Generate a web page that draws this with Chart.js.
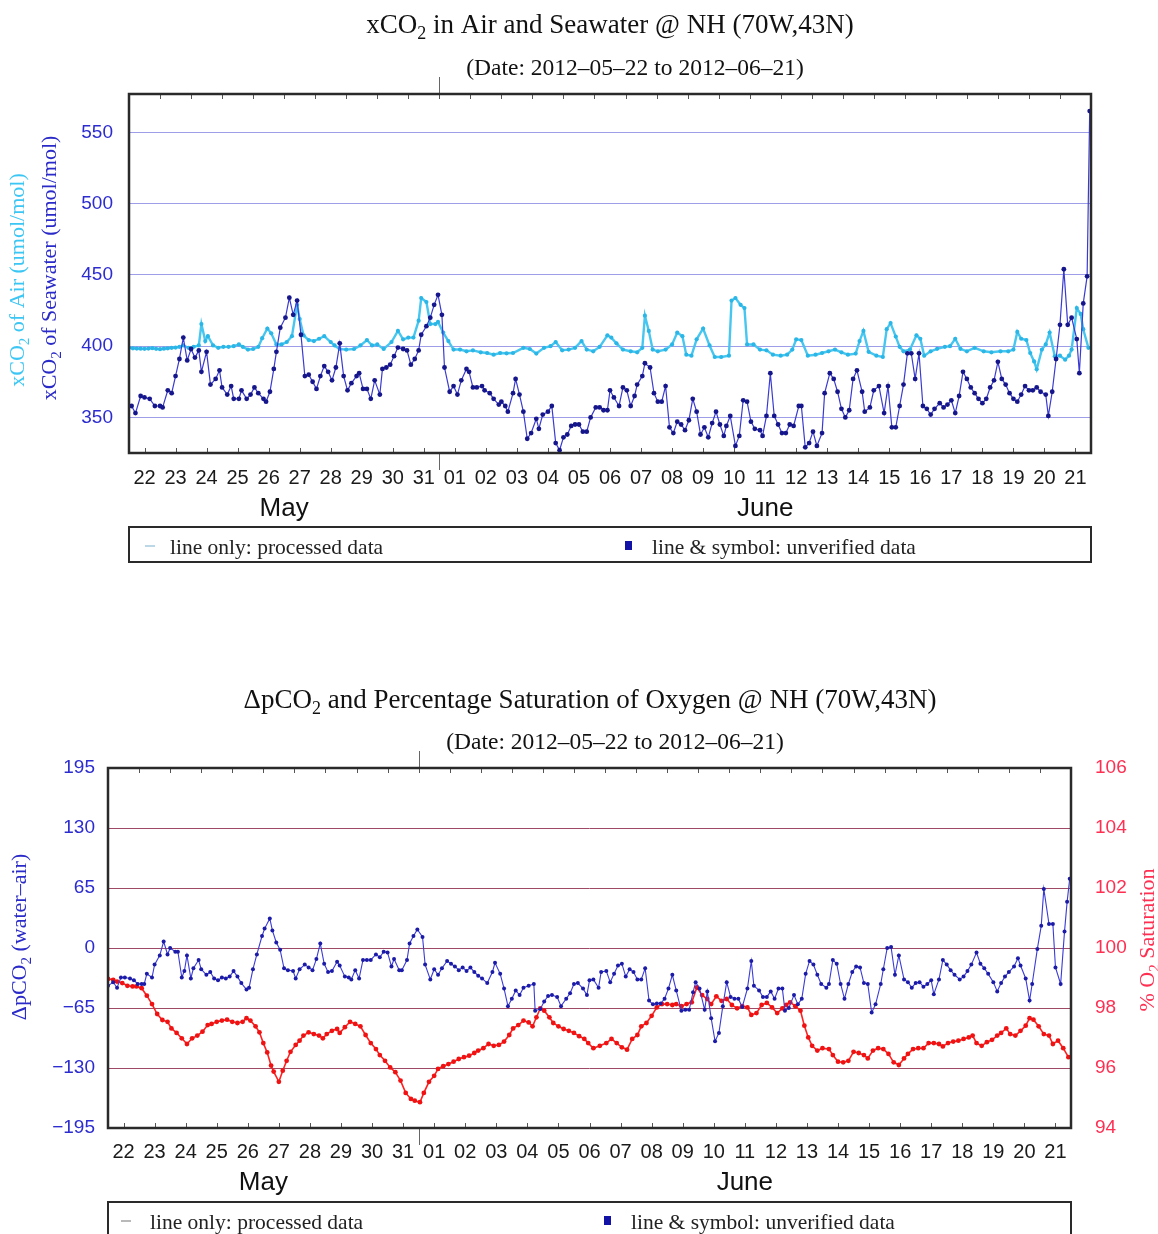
<!DOCTYPE html>
<html>
<head>
<meta charset="utf-8">
<script src="https://cdn.jsdelivr.net/npm/chart.js@4/dist/chart.umd.min.js"></script>
<style>
  html, body { margin: 0; padding: 0; background: #fff; }
  #wrap { position: relative; width: 1158px; height: 1234px; overflow: hidden; }
  canvas { position: absolute; left: 0; }
  #top { top: 0; }
  #bottom { top: 600px; }
</style>
</head>
<body>
<div id="wrap">
  <canvas id="top" width="1158" height="600"></canvas>
  <canvas id="bottom" width="1158" height="634"></canvas>
</div>
<script>
// ---- time axis: hours since 2012-05-22 00:00 ----
const dayLabels = ['22','23','24','25','26','27','28','29','30','31',
  '01','02','03','04','05','06','07','08','09','10','11','12','13','14','15','16','17','18','19','20','21'];
const monthLabels = ['May', 'June'];
const monthStartHours = [0, 240, 744];

// ---- axis tick values ----
const xco2Ticks = [350, 400, 450, 500, 550];
const dpco2Ticks = [-195, -130, -65, 0, 65, 130, 195];
const o2Ticks = [94, 96, 98, 100, 102, 104, 106];

// ---- xCO2 of seawater (umol/mol), [hour, value] ----
const seawaterXco2 = [
  [2,358],[5,353],[9,365],[12,364],[16,363],[20,358],[24,358],[26,357],[30,369],[33,367],[36,379],[39,391],
  [42,406],[45,390],[48,398],[51,392],[54,397],[56,382],[60,396],[63,373],[67,377],[70,383],[72,371],[76,366],
  [79,372],[81,363],[85,363],[87,369],[91,363],[94,366],[97,371],[100,367],[104,363],[106,361],[109,368],[112,384],
  [114,396],[117,413],[121,420],[124,434],[127,422],[130,432],[133,408],[136,379],[139,380],[142,375],[145,370],
  [148,379],[151,386],[154,382],[157,376],[160,385],[163,402],[166,379],[169,369],[172,374],[176,379],[178,381],
  [181,370],[184,370],[187,363],[190,376],[194,366],[196,384],[199,385],[202,387],[205,393],[208,399],[212,398],
  [215,397],[218,387],[221,391],[224,397],[226,408],[230,414],[233,420],[236,429],[239,436],[242,422],[244,385],
  [248,368],[251,372],[254,366],[257,376],[261,384],[263,382],[266,371],[269,371],[273,372],[275,369],[279,367],
  [282,363],[286,359],[288,361],[291,358],[293,354],[297,367],[299,377],[302,366],[305,354],[308,335],[311,339],
  [315,349],[317,342],[320,352],[324,354],[327,358],[330,332],[333,327],[336,336],[339,338],[342,344],[345,345],
  [348,345],[351,340],[354,340],[357,350],[361,357],[364,357],[367,355],[370,355],[372,369],[375,364],[379,358],
  [382,371],[385,369],[388,358],[391,365],[393,373],[397,379],[399,388],[403,385],[406,367],[409,361],[412,361],
  [415,372],[418,343],[421,339],[424,347],[427,345],[430,341],[433,348],[436,363],[439,354],[442,338],[445,343],
  [448,336],[451,346],[454,354],[457,345],[460,337],[462,344],[465,351],[469,330],[472,337],[475,362],[478,361],
  [481,347],[484,342],[488,341],[490,337],[493,351],[496,381],[499,351],[502,345],[505,339],[508,339],[511,345],
  [514,344],[518,358],[520,358],[523,329],[526,332],[529,340],[532,330],[536,339],[538,367],[542,381],[545,377],
  [548,368],[551,356],[554,350],[557,355],[560,377],[563,383],[567,368],[569,354],[573,357],[576,369],[580,372],
  [584,353],[587,372],[590,343],[593,343],[596,358],[599,373],[602,395],[605,395],[608,377],[611,395],[614,358],
  [617,356],[620,352],[623,356],[627,360],[630,357],[633,359],[636,362],[639,353],[642,365],[645,382],[648,377],
  [651,371],[654,367],[657,363],[660,360],[663,363],[666,371],[669,376],[672,389],[675,377],[678,373],[681,367],
  [684,363],[687,361],[690,366],[693,372],[696,369],[699,369],[702,371],[705,368],[709,366],[711,351],[714,368],
  [717,391],[720,415],[723,454],[726,415],[729,420],[733,405],[735,381],[738,430],[741,449],[743,565]
];

// ---- xCO2 of air (umol/mol), [hour, value] ----
const airXco2 = [
  [0,398.8],[3,398.5],[6,398.3],[9,398.2],[12,398.1],[15,398.3],[18,398.6],[21,398.1],[24,397.9],[27,398.2],
  [30,398.5],[33,398.8],[36,399.0],[39,399.5],[42,400.5],[46,398.8],[50,399.5],[54,400.5],[56,415.5],[59,403.6],
  [61,407.0],[65,400.5],[69,398.8],[73,399.5],[77,399.5],[81,400.0],[85,401.2],[88,399.5],[92,397.6],[96,398.0],
  [100,399.5],[103,405.6],[107,412.4],[110,409.0],[114,401.2],[118,401.2],[122,402.9],[126,407.0],[130,429.0],
  [132,419.0],[135,407.6],[139,404.3],[143,403.6],[147,405.2],[151,407.0],[156,402.9],[159,400.5],[163,398.0],
  [168,397.6],[174,398.0],[179,400.5],[184,404.3],[188,400.5],[192,401.2],[197,398.0],[203,402.9],[208,410.7],
  [212,404.8],[216,406.0],[220,406.0],[224,417.9],[226,433.8],[230,431.0],[233,415.5],[237,415.5],[239,417.0],
  [243,409.5],[247,403.6],[251,397.6],[256,397.6],[261,396.4],[266,397.0],[272,395.7],[277,395.2],[282,394.0],
  [287,395.2],[292,395.0],[297,395.2],[305,398.8],[310,398.0],[315,394.8],[321,398.8],[326,400.0],[330,402.9],
  [335,397.1],[340,397.6],[345,398.8],[350,403.6],[354,397.6],[359,396.4],[364,399.5],[370,407.6],[373,406.0],
  [377,402.0],[382,397.6],[388,396.4],[393,395.7],[397,398.8],[399,421.4],[402,410.7],[405,397.6],[409,396.4],
  [415,397.6],[420,401.2],[424,409.5],[428,407.0],[431,394.0],[435,393.3],[439,404.8],[444,412.4],[449,400.5],
  [453,392.4],[458,392.4],[464,393.3],[466,432.0],[469,433.8],[473,429.0],[476,426.7],[478,401.2],[483,401.2],
  [488,397.6],[493,397.1],[498,394.0],[504,393.3],[509,394.0],[513,397.6],[516,404.8],[520,404.3],[525,393.3],
  [531,394.0],[536,395.2],[541,396.4],[546,397.6],[551,395.7],[556,394.0],[562,394.8],[565,403.6],[568,410.7],
  [572,396.0],[578,393.3],[583,392.4],[586,411.9],[589,416.2],[593,406.7],[596,399.5],[599,396.4],[604,397.6],
  [609,407.6],[612,405.2],[615,393.3],[620,396.4],[625,398.1],[631,399.5],[635,400.0],[639,405.2],[643,398.1],
  [648,396.4],[654,398.8],[661,396.4],[667,395.7],[674,396.4],[680,396.4],[684,397.6],[687,410.0],[690,405.2],
  [694,404.3],[697,395.2],[700,389.3],[702,383.8],[706,397.6],[709,401.2],[712,409.5],[716,392.9],[720,393.3],
  [724,390.5],[727,393.3],[729,397.6],[733,426.7],[736,422.6],[738,411.9],[742,398.8]
];

// ---- delta pCO2 (water - air), [hour, value] ----
const deltaPco2 = [
  [0,-41],[4,-37],[7,-43],[10,-32],[13,-32],[17,-33],[20,-35],[23,-39],[26,-39],[28,-39],[30,-28],[34,-32],
  [36,-18],[40,-8],[43,7],[46,-7],[48,0],[52,-4],[54,-4],[57,-32],[59,-25],[61,-8],[64,-33],[66,-22],[70,-13],
  [72,-23],[76,-29],[79,-26],[82,-33],[85,-35],[88,-32],[91,-33],[94,-31],[97,-25],[100,-31],[103,-38],[107,-45],
  [109,-43],[112,-23],[115,-7],[119,13],[121,21],[125,32],[127,19],[130,6],[133,-2],[136,-22],[139,-24],[143,-25],
  [145,-33],[148,-23],[152,-18],[155,-21],[158,-24],[161,-12],[164,5],[167,-17],[170,-26],[173,-25],[177,-15],
  [179,-19],[183,-31],[186,-32],[188,-34],[191,-24],[194,-33],[197,-13],[200,-13],[203,-13],[207,-7],[210,-10],
  [213,-4],[216,-5],[219,-20],[221,-12],[225,-24],[227,-24],[231,-13],[233,5],[236,13],[239,20],[243,12],[245,-18],
  [249,-34],[252,-23],[255,-29],[258,-22],[262,-14],[265,-17],[268,-20],[271,-24],[274,-21],[277,-25],[280,-21],
  [283,-26],[286,-30],[289,-33],[293,-38],[297,-26],[299,-16],[303,-28],[306,-44],[309,-63],[312,-55],[315,-46],
  [318,-51],[321,-43],[325,-41],[329,-39],[330,-68],[334,-66],[337,-58],[340,-52],[343,-51],[347,-53],[350,-63],
  [354,-55],[357,-49],[360,-39],[363,-38],[367,-44],[370,-51],[372,-35],[375,-34],[379,-43],[381,-26],[385,-25],
  [388,-37],[391,-28],[394,-19],[397,-17],[400,-31],[403,-23],[406,-26],[409,-34],[412,-34],[415,-22],[418,-57],
  [421,-61],[424,-60],[427,-60],[430,-55],[433,-44],[436,-29],[439,-46],[443,-68],[446,-67],[449,-67],[452,-48],
  [454,-37],[457,-44],[461,-67],[463,-47],[466,-76],[469,-101],[472,-92],[475,-63],[478,-37],[481,-53],[484,-55],
  [487,-55],[490,-64],[494,-44],[497,-14],[499,-41],[503,-46],[506,-53],[509,-53],[512,-47],[515,-55],[518,-44],
  [521,-44],[523,-68],[526,-65],[530,-51],[533,-61],[536,-55],[539,-28],[542,-14],[545,-18],[548,-29],[551,-39],
  [555,-43],[557,-39],[560,-13],[563,-17],[566,-39],[569,-55],[572,-39],[575,-26],[578,-20],[581,-21],[584,-38],
  [587,-39],[590,-70],[593,-61],[597,-39],[599,-23],[602,0],[605,1],[608,-29],[611,-8],[615,-34],[618,-37],
  [621,-43],[624,-38],[627,-37],[630,-42],[633,-39],[636,-35],[638,-50],[642,-34],[645,-13],[648,-18],[651,-24],
  [654,-29],[658,-34],[661,-31],[664,-25],[667,-18],[671,-5],[674,-17],[677,-22],[680,-28],[684,-37],[687,-47],
  [690,-38],[693,-31],[696,-26],[700,-20],[703,-11],[705,-19],[709,-33],[712,-57],[714,-39],[718,-1],[721,24],
  [723,64],[727,26],[730,26],[732,-21],[736,-39],[739,18],[741,50],[743,75]
];

// ---- % O2 saturation, [hour, value] ----
const o2Saturation = [
  [0,98.97],[4,98.94],[7,98.88],[11,98.83],[15,98.74],[19,98.72],[22,98.72],[26,98.66],[30,98.41],[34,98.13],
  [38,97.80],[42,97.60],[46,97.54],[49,97.32],[53,97.17],[57,96.99],[61,96.80],[65,96.99],[69,97.08],[73,97.21],
  [77,97.43],[80,97.47],[84,97.54],[88,97.58],[92,97.61],[96,97.54],[100,97.50],[104,97.54],[107,97.66],[110,97.58],
  [114,97.39],[117,97.19],[120,96.83],[123,96.52],[126,96.08],[128,95.88],[132,95.54],[135,95.91],[138,96.24],
  [141,96.54],[145,96.77],[148,96.91],[151,97.08],[155,97.19],[159,97.13],[163,97.08],[166,96.99],[169,97.13],
  [173,97.24],[177,97.30],[179,97.17],[183,97.36],[187,97.54],[191,97.47],[195,97.39],[199,97.10],[203,96.83],
  [207,96.63],[210,96.43],[214,96.24],[218,96.02],[222,95.86],[226,95.58],[230,95.17],[234,94.97],[237,94.91],
  [241,94.86],[244,95.17],[248,95.54],[252,95.74],[255,95.97],[259,96.06],[263,96.13],[267,96.21],[271,96.30],
  [275,96.36],[279,96.41],[283,96.50],[286,96.58],[290,96.66],[294,96.80],[298,96.74],[302,96.77],[306,96.88],
  [310,97.10],[313,97.32],[317,97.43],[321,97.58],[325,97.52],[328,97.39],[331,97.69],[334,97.99],[337,97.91],
  [341,97.69],[344,97.50],[348,97.39],[352,97.30],[356,97.24],[360,97.17],[364,97.06],[368,96.97],[371,96.83],
  [375,96.66],[380,96.74],[385,96.83],[389,96.97],[393,96.83],[397,96.69],[401,96.61],[405,96.97],[409,97.10],
  [412,97.39],[416,97.50],[420,97.74],[424,98.02],[428,98.13],[432,98.13],[436,98.10],[439,98.13],[443,98.06],
  [447,98.13],[451,98.19],[455,98.69],[459,98.43],[463,98.30],[466,98.13],[470,98.39],[474,98.24],[478,98.30],
  [482,98.10],[486,97.99],[490,98.06],[494,98.02],[497,97.77],[501,97.83],[505,98.10],[509,98.17],[513,98.02],
  [517,97.83],[521,97.99],[524,98.10],[527,98.19],[531,98.06],[535,97.91],[538,97.41],[541,97.02],[544,96.74],
  [548,96.58],[552,96.66],[557,96.63],[560,96.43],[564,96.21],[568,96.19],[572,96.24],[576,96.54],[580,96.50],
  [584,96.43],[587,96.32],[591,96.58],[595,96.66],[599,96.63],[603,96.47],[607,96.19],[611,96.10],[615,96.32],
  [618,96.47],[622,96.63],[626,96.66],[630,96.66],[634,96.83],[638,96.83],[642,96.80],[645,96.72],[649,96.83],
  [653,96.88],[657,96.91],[661,96.97],[665,97.02],[668,97.08],[671,96.83],[675,96.74],[679,96.86],[683,96.94],
  [687,97.08],[690,97.17],[694,97.32],[697,97.13],[701,97.08],[705,97.24],[709,97.41],[712,97.66],[715,97.61],
  [719,97.39],[723,97.13],[727,97.08],[730,96.80],[734,96.91],[738,96.66],[742,96.36]
];

// ---- styling ----
const SERIF = '"Liberation Serif", "Times New Roman", serif';
const SANS = '"Liberation Sans", Arial, sans-serif';
const BLUE_TEXT = '#2c2cd0';
const RED_TEXT = '#ff2f52';

const toPoints = pairs => pairs.map(([h, v]) => ({ x: h, y: v }));
const noonTicks = () => dayLabels.map((_, i) => ({ value: i * 24 + 12 }));
const fmtMinus = v => (v < 0 ? '\u2212' + Math.abs(v) : String(v));

// text with "_2" style subscripts
function richText(ctx, text, x, y, size, family, color, align) {
  const parts = text.split(/_(\d)/);
  const sub = Math.round(size * 0.68);
  const widths = parts.map((p, i) => {
    ctx.font = `${i % 2 ? sub : size}px ${family}`;
    return ctx.measureText(p).width;
  });
  const total = widths.reduce((a, b) => a + b, 0);
  let cx = align === 'center' ? x - total / 2 : align === 'right' ? x - total : x;
  ctx.fillStyle = color;
  ctx.textAlign = 'left';
  ctx.textBaseline = 'middle';
  parts.forEach((p, i) => {
    ctx.font = `${i % 2 ? sub : size}px ${family}`;
    ctx.fillText(p, cx, i % 2 ? y + size * 0.3 : y);
    cx += widths[i];
  });
}

function rotatedText(ctx, text, x, y, size, family, color) {
  ctx.save();
  ctx.translate(x, y);
  ctx.rotate(-Math.PI / 2);
  richText(ctx, text, 0, 0, size, family, color, 'center');
  ctx.restore();
}

function line(ctx, x1, y1, x2, y2) {
  ctx.beginPath(); ctx.moveTo(x1, y1); ctx.lineTo(x2, y2); ctx.stroke();
}

// frame, tick marks, titles, month names and the legend box
function decorPlugin(d) {
  return {
    id: 'decor',
    afterDatasetsDraw(chart) {
      const { ctx, chartArea: a } = chart;
      const x = chart.scales.x;
      ctx.save();
      ctx.strokeStyle = '#555';
      ctx.lineWidth = 1;
      for (let day = 1; day < dayLabels.length; day++) {
        const px = Math.round(x.getPixelForValue(day * 24)) + 0.5;
        line(ctx, px, a.top, px, a.top + 5);
      }
      noonTicks().forEach(t => {
        const px = Math.round(x.getPixelForValue(t.value)) + 0.5;
        line(ctx, px, a.bottom - 5, px, a.bottom);
      });
      const mb = Math.round(x.getPixelForValue(monthStartHours[1])) + 0.5;
      ctx.strokeStyle = '#666';
      line(ctx, mb, a.top - 17, mb, a.top);
      line(ctx, mb, a.bottom, mb, a.bottom + 17);
      ctx.strokeStyle = '#2a2a2a';
      ctx.lineWidth = 2.5;
      ctx.strokeRect(a.left, a.top, a.right - a.left, a.bottom - a.top);
      ctx.restore();
    },
    afterDraw(chart) {
      const { ctx, chartArea: a } = chart;
      const x = chart.scales.x;
      ctx.save();
      richText(ctx, d.title, d.titleX, d.titleY, 27, SERIF, '#111', 'center');
      richText(ctx, d.subtitle, d.subX, d.subY, 23.5, SERIF, '#111', 'center');
      d.axisTitles.forEach(t => rotatedText(ctx, t.text, t.x, t.y, 22, SERIF, t.color));
      // month names centred under their day ranges
      ctx.font = `26px ${SANS}`;
      ctx.fillStyle = '#111';
      ctx.textAlign = 'center';
      ctx.textBaseline = 'middle';
      monthLabels.forEach((m, i) => {
        const c = (x.getPixelForValue(monthStartHours[i]) + x.getPixelForValue(monthStartHours[i + 1])) / 2;
        ctx.fillText(m, c, d.monthY);
      });
      // legend box
      ctx.strokeStyle = '#2a2a2a';
      ctx.lineWidth = 2;
      ctx.strokeRect(a.left, d.legendTop, a.right - a.left, d.legendHeight);
      const ly = d.legendTop + d.legendTextDy;
      ctx.strokeStyle = d.processedColor;
      ctx.lineWidth = 2;
      line(ctx, a.left + d.mark1 - 6, ly - 2, a.left + d.mark1 + 4, ly - 2);
      richText(ctx, 'line only: processed data', a.left + d.text1, ly, 21.5, SERIF, '#222', 'left');
      ctx.fillStyle = '#1212a6';
      ctx.fillRect(a.left + d.mark2, ly - 7, 7, 9);
      richText(ctx, 'line & symbol: unverified data', a.left + d.text2, ly, 21.5, SERIF, '#222', 'left');
      ctx.restore();
    }
  };
}

function xAxis(axisHeight, pad) {
  return {
    type: 'linear', min: 0, max: 744,
    afterBuildTicks: s => { s.ticks = noonTicks(); },
    afterFit: s => { s.height = axisHeight; },
    ticks: {
      autoSkip: false, maxRotation: 0, minRotation: 0, padding: pad,
      color: '#1a1a1a', font: { family: SANS, size: 20 },
      callback: (v, i) => dayLabels[i]
    },
    grid: { display: false },
    border: { display: false }
  };
}

// ---- upper panel: xCO2 in air and seawater ----
new Chart(document.getElementById('top'), {
  type: 'line',
  data: {
    datasets: [
      {
        label: 'xCO2 of Seawater', data: toPoints(seawaterXco2),
        borderColor: '#3a3ad2', borderWidth: 1.2, backgroundColor: '#15158c',
        pointBackgroundColor: '#15158c', pointBorderWidth: 0, pointRadius: 2.4, tension: 0
      },
      {
        label: 'xCO2 of Air', data: toPoints(airXco2),
        borderColor: '#47c6f0', borderWidth: 2.4, backgroundColor: '#2ab6e6',
        pointBackgroundColor: '#2ab6e6', pointBorderWidth: 0, pointRadius: 2.1, tension: 0
      }
    ]
  },
  options: {
    responsive: false, animation: false, devicePixelRatio: 1,
    layout: { padding: { left: 0, right: 67, top: 94, bottom: 0 } },
    plugins: { legend: { display: false }, tooltip: { enabled: false }, title: { display: false } },
    scales: {
      x: xAxis(147, 5),
      y: {
        min: 325, max: 577,
        afterBuildTicks: s => { s.ticks = xco2Ticks.map(v => ({ value: v })); },
        afterFit: s => { s.width = 129; },
        ticks: { padding: 16, color: BLUE_TEXT, font: { family: SANS, size: 19 } },
        grid: { color: '#9d9de8', lineWidth: 1, drawTicks: false },
        border: { display: false }
      }
    }
  },
  plugins: [decorPlugin({
    title: 'xCO_2 in Air and Seawater @ NH (70W,43N)', titleX: 610, titleY: 26,
    subtitle: '(Date: 2012\u201305\u201322 to 2012\u201306\u201321)', subX: 635, subY: 69,
    axisTitles: [
      { text: 'xCO_2 of Air (umol/mol)', x: 18, y: 280, color: '#3cc6f4' },
      { text: 'xCO_2 of Seawater (umol/mol)', x: 50, y: 268, color: '#2a2ac8' }
    ],
    monthY: 509, legendTop: 527, legendHeight: 35, legendTextDy: 21,
    processedColor: '#bcd8e6', mark1: 22, text1: 41, mark2: 496, text2: 523
  })]
});

// ---- lower panel: delta pCO2 and O2 saturation ----
new Chart(document.getElementById('bottom'), {
  type: 'line',
  data: {
    datasets: [
      {
        label: 'dpCO2', yAxisID: 'y', data: toPoints(deltaPco2),
        borderColor: '#3a3ad8', borderWidth: 1.1, backgroundColor: '#1b1ba8',
        pointBackgroundColor: '#1b1ba8', pointBorderWidth: 0, pointRadius: 2, tension: 0
      },
      {
        label: 'O2 saturation', yAxisID: 'y2', data: toPoints(o2Saturation),
        borderColor: '#ff2020', borderWidth: 1.6, backgroundColor: '#f01212',
        pointBackgroundColor: '#f01212', pointBorderWidth: 0, pointRadius: 2.4, tension: 0
      }
    ]
  },
  options: {
    responsive: false, animation: false, devicePixelRatio: 1,
    layout: { padding: { left: 0, right: 0, top: 168, bottom: 0 } },
    plugins: { legend: { display: false }, tooltip: { enabled: false }, title: { display: false } },
    scales: {
      x: xAxis(106, 4),
      y: {
        position: 'left', min: -195, max: 195,
        afterBuildTicks: s => { s.ticks = dpco2Ticks.map(v => ({ value: v })); },
        afterFit: s => { s.width = 108; },
        ticks: { padding: 13, color: BLUE_TEXT, font: { family: SANS, size: 19 }, callback: v => fmtMinus(v) },
        grid: { color: '#9e4a64', lineWidth: 1, drawTicks: false },
        border: { display: false }
      },
      y2: {
        position: 'right', min: 94, max: 106,
        afterBuildTicks: s => { s.ticks = o2Ticks.map(v => ({ value: v })); },
        afterFit: s => { s.width = 87; },
        ticks: { padding: 16, color: RED_TEXT, font: { family: SANS, size: 19 } },
        grid: { display: false },
        border: { display: false }
      }
    }
  },
  plugins: [decorPlugin({
    title: '\u0394pCO_2 and Percentage Saturation of Oxygen @ NH (70W,43N)', titleX: 590, titleY: 101,
    subtitle: '(Date: 2012\u201305\u201322 to 2012\u201306\u201321)', subX: 615, subY: 143,
    axisTitles: [
      { text: '\u0394pCO_2 (water\u2013air)', x: 20, y: 337, color: '#2a2ac8' },
      { text: '% O_2 Saturation', x: 1148, y: 340, color: RED_TEXT }
    ],
    monthY: 583, legendTop: 602, legendHeight: 40, legendTextDy: 21,
    processedColor: '#b9b9b9', mark1: 19, text1: 42, mark2: 496, text2: 523
  })]
});
</script>
</body>
</html>
